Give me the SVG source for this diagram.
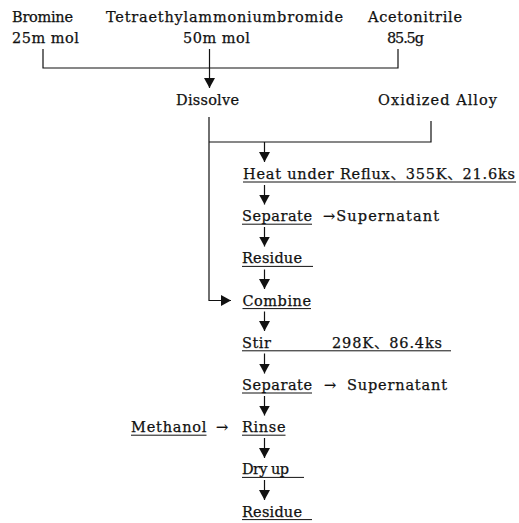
<svg xmlns="http://www.w3.org/2000/svg" width="519" height="523" viewBox="0 0 519 523">
<style>
text{font-family:"DejaVu Serif","Noto Sans CJK JP",serif;font-size:14.5px;fill:#111;stroke:#111;stroke-width:0.25;}
.ln{stroke:#111;stroke-width:1.2;fill:none;}
.ul{stroke:#111;stroke-width:1;}
</style>
<defs>
<marker id="ah" markerUnits="userSpaceOnUse" markerWidth="10" markerHeight="11" refX="10" refY="5.5" orient="auto" viewBox="0 0 10 11">
<path d="M0,0 L10,5.5 L0,11 Z" fill="#111"/>
</marker>
</defs>
<rect width="519" height="523" fill="#fff"/>
<g id="connectors">
<polyline class="ln" points="43,49 43,68 398,68 398,49"/>
<line class="ln" x1="209.5" y1="49" x2="209.5" y2="88" marker-end="url(#ah)"/>
<polyline class="ln" points="209,117 209,300.5 231,300.5" marker-end="url(#ah)"/>
<polyline class="ln" points="431,121 431,142 209,142"/>
<line class="ln" x1="264.5" y1="142" x2="264.5" y2="162" marker-end="url(#ah)"/>
<line class="ln" x1="264.5" y1="185" x2="264.5" y2="204.5" marker-end="url(#ah)"/>
<line class="ln" x1="264.5" y1="227" x2="264.5" y2="246.5" marker-end="url(#ah)"/>
<line class="ln" x1="264.5" y1="269.5" x2="264.5" y2="289" marker-end="url(#ah)"/>
<line class="ln" x1="264.5" y1="311.5" x2="264.5" y2="331" marker-end="url(#ah)"/>
<line class="ln" x1="264.5" y1="353.5" x2="264.5" y2="373.5" marker-end="url(#ah)"/>
<line class="ln" x1="264.5" y1="396" x2="264.5" y2="415.5" marker-end="url(#ah)"/>
<line class="ln" x1="264.5" y1="438" x2="264.5" y2="458" marker-end="url(#ah)"/>
<line class="ln" x1="264.5" y1="480" x2="264.5" y2="500" marker-end="url(#ah)"/>
</g>
<g id="bromine">
<text x="12" y="21.5" textLength="61">Bromine</text>
<text x="12" y="43" textLength="67">25m mol</text>
</g>
<g id="teab">
<text x="106" y="21.5" textLength="237">Tetraethylammoniumbromide</text>
<text x="183" y="43" textLength="67">50m mol</text>
</g>
<g id="acetonitrile">
<text x="368" y="21.5" textLength="94">Acetonitrile</text>
<text x="387" y="43" textLength="37">85.5g</text>
</g>
<g id="dissolve">
<text x="176" y="105" textLength="63">Dissolve</text>
</g>
<g id="oxidized-alloy">
<text x="378" y="105" textLength="119">Oxidized Alloy</text>
</g>
<g id="heat">
<text x="243" y="179" textLength="272">Heat under Reflux、355K、21.6ks</text>
<line class="ul" x1="243" y1="182" x2="516" y2="182"/>
</g>
<g id="separate1">
<text x="242" y="221.2" textLength="70">Separate</text>
<line class="ul" x1="242" y1="224.2" x2="312" y2="224.2"/>
<text x="323" y="221.2" textLength="116">→Supernatant</text>
</g>
<g id="residue1">
<text x="242" y="263.4" textLength="60">Residue</text>
<line class="ul" x1="242" y1="266.4" x2="313" y2="266.4"/>
</g>
<g id="combine">
<text x="242.5" y="305.6" textLength="68.5">Combine</text>
<line class="ul" x1="242.5" y1="308.6" x2="311" y2="308.6"/>
</g>
<g id="stir">
<text x="242" y="347.8" textLength="29">Stir</text>
<text x="332" y="347.8" textLength="110">298K、86.4ks</text>
<line class="ul" x1="242" y1="350.8" x2="451" y2="350.8"/>
</g>
<g id="separate2">
<text x="242" y="390" textLength="70">Separate</text>
<line class="ul" x1="242" y1="393" x2="312" y2="393"/>
<text x="324" y="390" textLength="15">→</text>
<text x="347" y="390" textLength="100">Supernatant</text>
</g>
<g id="methanol">
<text x="131" y="432.2" textLength="75.5">Methanol</text>
<line class="ul" x1="131" y1="435.2" x2="206.5" y2="435.2"/>
<text x="216" y="432.2" textLength="14.5">→</text>
</g>
<g id="rinse">
<text x="242" y="432.2" textLength="43.5">Rinse</text>
<line class="ul" x1="242" y1="435.2" x2="285.5" y2="435.2"/>
</g>
<g id="dryup">
<text x="242" y="474.4" textLength="47">Dry up</text>
<line class="ul" x1="242" y1="477.4" x2="304" y2="477.4"/>
</g>
<g id="residue2">
<text x="242" y="516.6" textLength="60">Residue</text>
<line class="ul" x1="242" y1="519.6" x2="312" y2="519.6"/>
</g>
</svg>
